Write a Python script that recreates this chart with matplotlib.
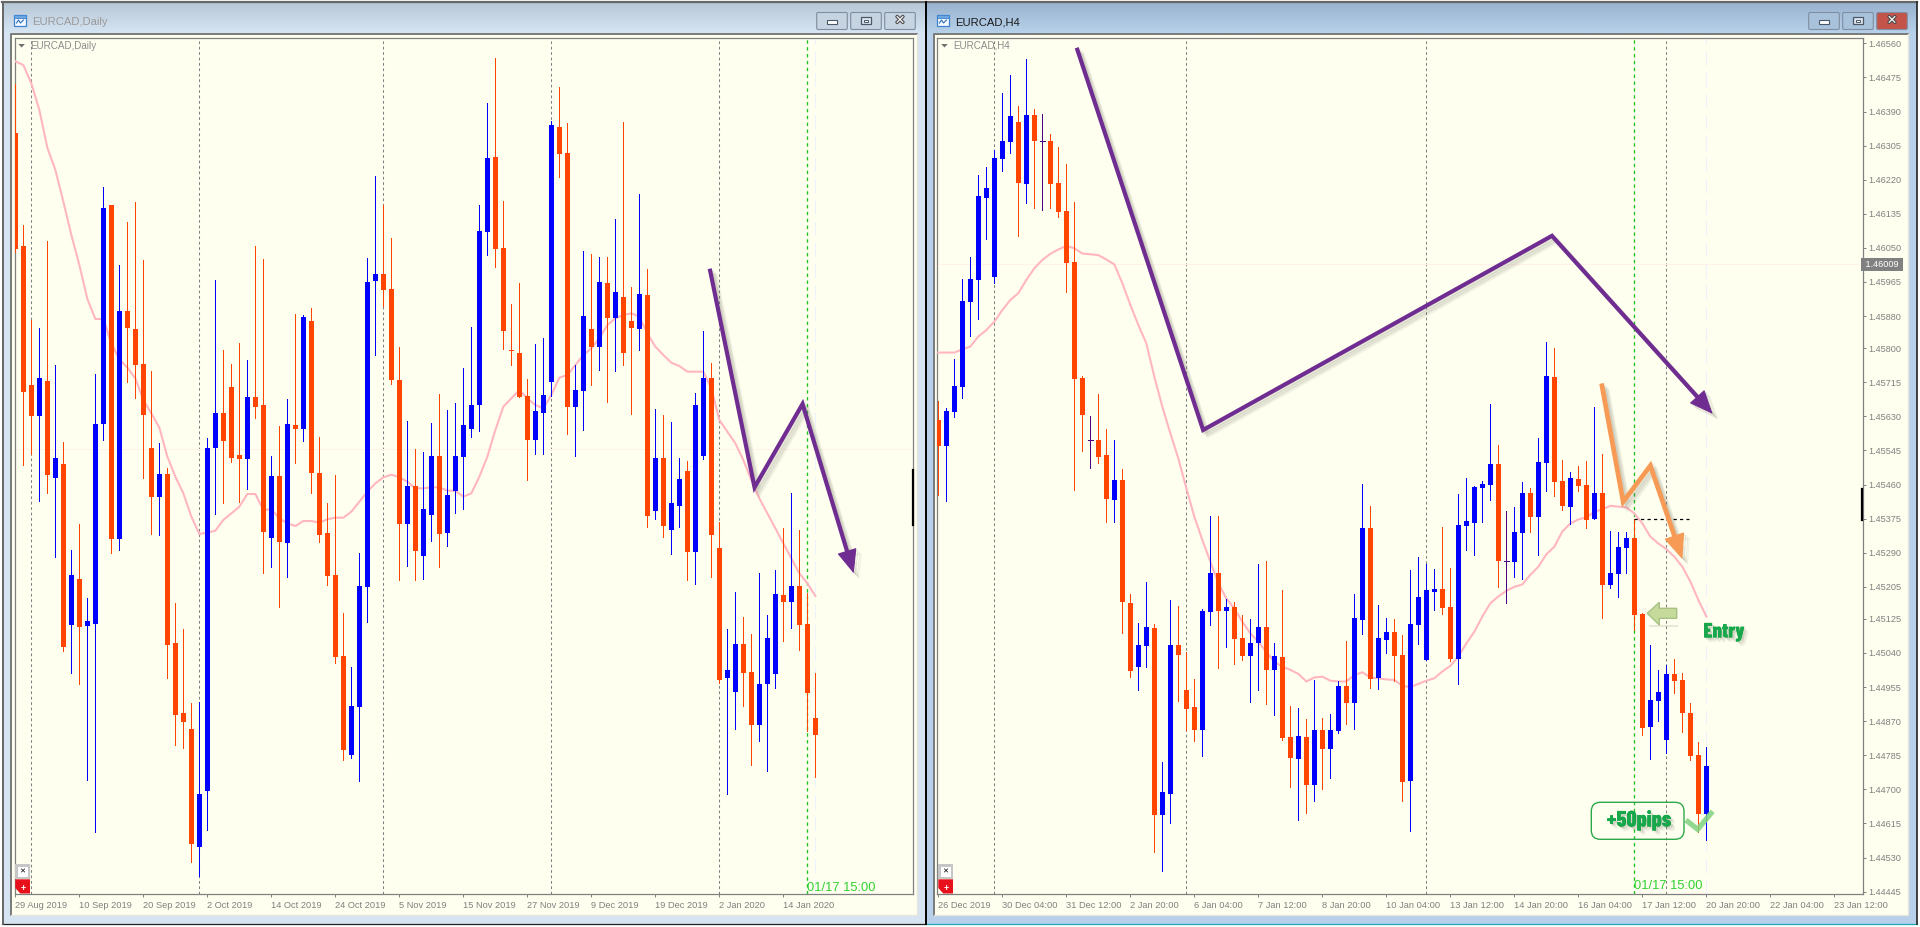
import numpy as np
import matplotlib
matplotlib.use("Agg")
import matplotlib.pyplot as plt
import matplotlib.patheffects as pe
from matplotlib.patches import FancyBboxPatch, Polygon, Rectangle

plt.rcParams["font.family"] = ["Liberation Sans", "DejaVu Sans"]

# daily pane has no price scale on screen, so values are plain chart levels
DAILY_TICKS = ["29 Aug 2019", "10 Sep 2019", "20 Sep 2019", "2 Oct 2019", "14 Oct 2019", "24 Oct 2019",
               "5 Nov 2019", "15 Nov 2019", "27 Nov 2019", "9 Dec 2019", "19 Dec 2019", "2 Jan 2020", "14 Jan 2020"]
DAILY_GRID = [2, 23, 46, 67, 88]
DAILY_OPEN = [2283, 1945, 1528, 1435, 1540, 1249, 1291, 808, 946, 805,
              812, 1411, 2068, 1066, 1750, 1696, 1591, 1339, 1192, 1261,
              754, 544, 496, 142, 310, 1339, 1444, 1522, 1318, 1306,
              1492, 1468, 1069, 1255, 1054, 1408, 1396, 1720, 1264, 1084,
              958, 715, 418, 562, 922, 1840, 1861, 1816, 1543, 1111,
              1225, 1015, 1138, 1315, 1084, 1210, 1312, 1396, 1468, 1987,
              2212, 1939, 1633, 1624, 1495, 1363, 1444, 1537, 2302, 2224,
              1462, 1510, 1696, 1642, 1834, 1729, 1792, 1720, 1696, 1798,
              1150, 1309, 1093, 1165, 1270, 1027, 1315, 1549, 1039, 649,
              607, 751, 667, 508, 631, 661, 898, 877, 925, 811, 529]
DAILY_CLOSE = [1937, 1508, 1435, 1549, 1258, 1309, 742, 958, 802, 820,
               1411, 2059, 1066, 1750, 1699, 1588, 1438, 1192, 1261, 748,
               538, 517, 151, 301, 1339, 1444, 1360, 1309, 1306, 1492,
               1462, 1087, 1255, 1057, 1411, 1396, 1732, 1264, 1078, 955,
               712, 433, 565, 925, 1837, 1861, 1813, 1543, 1111, 1225,
               1030, 1156, 1315, 1081, 1198, 1315, 1408, 1468, 1990, 2209,
               1936, 1690, 1630, 1492, 1363, 1450, 1498, 2308, 2221, 1462,
               1513, 1735, 1642, 1837, 1729, 1807, 1624, 1699, 1801, 1136,
               1309, 1105, 1174, 1246, 1027, 1468, 1549, 1078, 643, 673,
               751, 664, 508, 631, 769, 901, 877, 925, 808, 604, 478]
DAILY_HIGH = [2431, 2008, 1723, 1699, 1960, 1588, 1357, 1033, 1111, 889,
              1561, 2122, 2068, 1888, 2017, 2077, 1903, 1570, 1354, 1279,
              874, 796, 574, 577, 1369, 1843, 1633, 1591, 1654, 1603,
              1945, 1906, 1315, 1405, 1486, 1741, 1738, 1759, 1372, 1174,
              1258, 844, 682, 1024, 1909, 2155, 2068, 1969, 1642, 1420,
              1336, 1327, 1414, 1501, 1453, 1474, 1579, 1702, 2068, 2374,
              2509, 2080, 1771, 1834, 1546, 1651, 1669, 2320, 2422, 2314,
              1588, 1930, 1921, 1912, 1912, 2026, 2317, 1822, 2101, 1876,
              1456, 1438, 1417, 1309, 1300, 1504, 1690, 1594, 1117, 796,
              907, 832, 781, 964, 838, 973, 1099, 1204, 1093, 904, 664]
DAILY_LOW = [1928, 1288, 1321, 1180, 1204, 1012, 730, 664, 631, 343,
             187, 1363, 1024, 1033, 1537, 1489, 1249, 1081, 1078, 649,
             448, 439, 97, 55, 193, 1141, 1174, 1297, 1177, 1216,
             1429, 964, 982, 862, 952, 1294, 1360, 1204, 1057, 928,
             694, 403, 409, 340, 817, 1618, 1765, 1531, 943, 985,
             943, 946, 1060, 982, 1045, 1144, 1156, 1372, 1390, 1918,
             1882, 1636, 1588, 1492, 1243, 1321, 1321, 1495, 2152, 1381,
             1315, 1393, 1528, 1573, 1477, 1570, 1588, 1441, 1633, 1102,
             1126, 1072, 1021, 1102, 943, 931, 1306, 952, 634, 301,
             496, 565, 388, 460, 370, 619, 760, 799, 733, 490, 352]
DAILY_MA = [2499, 2488, 2433, 2353, 2240, 2173, 2078, 1978, 1888, 1786,
            1726, 1726, 1653, 1605, 1580, 1548, 1483, 1443, 1400, 1313,
            1253, 1203, 1133, 1081, 1085, 1091, 1123, 1143, 1163, 1201,
            1201, 1153, 1155, 1128, 1113, 1105, 1120, 1120, 1115, 1125,
            1130, 1130, 1148, 1178, 1208, 1233, 1251, 1259, 1251, 1238,
            1218, 1218, 1221, 1221, 1211, 1211, 1193, 1203, 1253, 1313,
            1393, 1463, 1488, 1513, 1488, 1468, 1458, 1498, 1550, 1558,
            1588, 1618, 1638, 1668, 1708, 1728, 1738, 1743, 1733, 1683,
            1643, 1618, 1595, 1585, 1568, 1568, 1568, 1518, 1423, 1388,
            1353, 1303, 1243, 1188, 1143, 1098, 1053, 1008, 963, 933, 895]
DAILY_BID = 1336
DAILY_TREND_X = [86.8, 92.4, 98.4, 104.8]
DAILY_TREND_Y = [1877, 1221, 1471, 963]

# H4 prices in points (1e-5)
H4_TICKS = ["26 Dec 2019", "30 Dec 04:00", "31 Dec 12:00", "2 Jan 20:00", "6 Jan 04:00", "7 Jan 12:00",
            "8 Jan 20:00", "10 Jan 04:00", "13 Jan 12:00", "14 Jan 20:00", "16 Jan 04:00", "17 Jan 12:00",
            "20 Jan 20:00", "22 Jan 04:00", "23 Jan 12:00"]
H4_GRID = [7, 31, 61, 91]
H4_PRICES = [1.46560, 1.46475, 1.46390, 1.46305, 1.46220, 1.46135, 1.46050, 1.45965, 1.45880, 1.45800,
             1.45715, 1.45630, 1.45545, 1.45460, 1.45375, 1.45290, 1.45205, 1.45125, 1.45040, 1.44955,
             1.44870, 1.44785, 1.44700, 1.44615, 1.44530, 1.44445]
H4_OPEN = [145621, 145556, 145641, 145703, 145915, 145970, 146174, 145977, 146272, 146314,
           146364, 146209, 146381, 146316, 146316, 146212, 146142, 146015, 145726, 145570,
           145571, 145534, 145421, 145471, 145165, 145005, 145058, 145102, 144636, 144689,
           145060, 144948, 144905, 144848, 145142, 145240, 145145, 145155, 145077, 145033,
           145065, 145105, 144998, 145030, 144831, 144776, 144831, 144711, 144848, 144801,
           144846, 144958, 144915, 145122, 145352, 144978, 145072, 145092, 145035, 144721,
           145110, 145023, 145192, 145200, 145155, 145025, 145357, 145364, 145451, 145459,
           145511, 145269, 145267, 145339, 145439, 145379, 145514, 145728, 145469, 145404,
           145474, 145459, 145374, 145439, 145210, 145237, 145302, 145327, 145137, 144856,
           144920, 144823, 144988, 144973, 144890, 144786, 144639]
H4_CLOSE = [145556, 145643, 145706, 145918, 145972, 146179, 146199, 146274, 146316, 146379,
            146212, 146381, 146316, 146316, 146209, 146139, 146012, 145723, 145633, 145570,
            145529, 145424, 145471, 145167, 144995, 145060, 145105, 144636, 144694, 145060,
            145035, 144900, 144848, 145145, 145240, 145145, 145155, 145075, 145033, 145065,
            145105, 144998, 145033, 144828, 144778, 144833, 144711, 144848, 144801, 144848,
            144958, 144915, 145127, 145352, 144975, 145077, 145092, 145033, 144718, 145112,
            145180, 145197, 145200, 145152, 145025, 145359, 145369, 145454, 145461, 145511,
            145269, 145269, 145342, 145439, 145379, 145516, 145731, 145466, 145407, 145476,
            145456, 145372, 145439, 145210, 145240, 145304, 145327, 145135, 144853, 144923,
            144943, 144988, 144970, 144890, 144783, 144639, 144758]
H4_HIGH = [145668, 145651, 145773, 145972, 146027, 146232, 146252, 146294, 146436, 146481,
           146404, 146521, 146396, 146384, 146334, 146302, 146259, 146164, 145731, 145631,
           145686, 145598, 145571, 145499, 145187, 145115, 145217, 145112, 144768, 145172,
           145157, 145043, 144975, 145150, 145382, 145382, 145175, 145167, 145135, 145125,
           145262, 145269, 145065, 145197, 144908, 144903, 144876, 144973, 144878, 144888,
           144970, 145070, 145187, 145461, 145407, 145160, 145127, 145125, 145085, 145247,
           145279, 145262, 145249, 145354, 145252, 145436, 145476, 145456, 145469, 145661,
           145559, 145394, 145404, 145466, 145451, 145576, 145815, 145800, 145521, 145491,
           145506, 145519, 145653, 145536, 145344, 145342, 145342, 145374, 145140, 145060,
           144998, 145010, 145025, 144990, 144915, 144818, 144806]
H4_LOW = [145434, 145419, 145628, 145676, 145830, 145873, 146072, 145962, 146242, 146287,
          146080, 146162, 146149, 146144, 146149, 146127, 145940, 145446, 145544, 145501,
          145514, 145367, 145367, 145090, 144980, 144948, 145005, 144544, 144497, 144616,
          144920, 144848, 144821, 144783, 145110, 145003, 145055, 145013, 145023, 144918,
          144948, 144913, 144886, 144823, 144706, 144624, 144641, 144671, 144701, 144728,
          144841, 144863, 144851, 145087, 144953, 144950, 145040, 144970, 144671, 144596,
          145063, 145023, 145147, 145137, 145020, 144963, 145297, 145284, 145367, 145421,
          145205, 145165, 145230, 145225, 145342, 145284, 145444, 145431, 145397, 145362,
          145444, 145352, 145374, 145127, 145202, 145180, 145240, 145097, 144836, 144776,
          144871, 144791, 144940, 144843, 144773, 144594, 144574]
H4_MA = [145789, 145789, 145789, 145797, 145804, 145829, 145845, 145866, 145895, 145920,
         145937, 145970, 145999, 146020, 146035, 146046, 146055, 146049, 146036, 146034,
         146032, 146021, 146009, 145962, 145908, 145858, 145812, 145729, 145654, 145588,
         145525, 145451, 145380, 145322, 145268, 145214, 145176, 145151, 145118, 145089,
         145068, 145043, 145018, 145006, 144998, 144988, 144969, 144979, 144981, 144971,
         144969, 144969, 144985, 144992, 144979, 144977, 144974, 144973, 144958, 144955,
         144963, 144971, 144977, 144994, 145008, 145031, 145064, 145093, 145131, 145164,
         145181, 145195, 145205, 145211, 145235, 145255, 145286, 145305, 145343, 145363,
         145373, 145378, 145392, 145398, 145407, 145405, 145403, 145388, 145363, 145330,
         145313, 145299, 145280, 145255, 145218, 145172, 145131]
H4_BID = 1.46009
H4_TREND_X = [17.3, 33.1, 76.7, 96.8]
H4_TREND_Y = [1.46549, 1.45596, 1.46080, 1.45636]
H4_SWING_X = [82.9, 85.6, 89.0, 93.0]
H4_SWING_Y = [1.45712, 1.45417, 1.45507, 1.45274]
H4_ENTRY_X = [87, 93.8]
H4_ENTRY_Y = 1.45373

BLUE = "#0000ff"
ORANGE = "#ff4500"
DOJI = "#4b0082"
MA_PINK = "#ffb6c1"
IVORY = "#fffff0"
GREY = "#808080"
PURPLE = "#6f2c91"
SWING = "#f79a55"
LIME = "#2fd12f"
TEXT_GREEN = "#16a84a"
HEAVY_NARROW = ["Barlow Condensed", "Liberation Sans"]
W, H = 1920, 927


def px_axes(fig, left, top, right, bottom):
    return fig.add_axes([left / W, 1 - bottom / H, (right - left) / W, (bottom - top) / H])


def draw_candles(ax, opens, highs, lows, closes):
    opens, highs, lows, closes = map(np.asarray, (opens, highs, lows, closes))
    x = np.arange(len(opens))
    colors = np.where(closes > opens, BLUE, np.where(closes < opens, ORANGE, DOJI))
    ax.vlines(x, lows, highs, colors=colors, linewidth=0.72, zorder=4, antialiased=False)
    ax.bar(x, closes - opens, bottom=opens, width=0.63, color=colors, linewidth=0, zorder=5, antialiased=False)
    flat = closes == opens
    ax.hlines(opens[flat], x[flat] - 0.31, x[flat] + 0.31, colors=DOJI, linewidth=0.72, zorder=5, antialiased=False)


def trend_line(ax, xs, ys, color, lw, head):
    shadow = [pe.SimpleLineShadow(offset=(4, -4), shadow_color="#666655", alpha=0.08),
              pe.SimpleLineShadow(offset=(3, -3), shadow_color="#666655", alpha=0.12),
              pe.SimpleLineShadow(offset=(1.5, -1.5), shadow_color="#666655", alpha=0.14), pe.Normal()]
    # shaft stops inside the arrow head so the tip stays sharp
    start, tip = ax.transData.transform([(xs[-2], ys[-2]), (xs[-1], ys[-1])])
    stop = ax.transData.inverted().transform(tip + (start - tip) * 14 / np.hypot(*(tip - start)))
    ax.plot(list(xs[:-1]) + [stop[0]], list(ys[:-1]) + [stop[1]], color=color, lw=lw, zorder=8,
            solid_joinstyle="miter", solid_capstyle="butt", path_effects=shadow)
    arrow = ax.annotate("", xy=(xs[-1], ys[-1]), xytext=tuple(stop), zorder=9,
                        arrowprops=dict(arrowstyle=f"-|>,head_length={head},head_width={head * 0.42}",
                                        color=color, lw=0.8, shrinkA=0, shrinkB=0, mutation_scale=10))
    arrow.arrow_patch.set_path_effects(shadow)


def style_pane(ax, n_ticks, labels):
    ax.set_facecolor(IVORY)
    for spine in ax.spines.values():
        spine.set_color(GREY)
        spine.set_linewidth(0.9)
    ax.set_xticks(np.arange(n_ticks) * 8)
    ax.set_xticklabels(labels, ha="left", fontsize=6.7, color=GREY)
    ax.tick_params(axis="x", length=2.4, width=0.7, color=GREY, pad=2.2)


def draw_pane(ax, opens, highs, lows, closes, ma, grid, green_bar, last_bar, bid):
    for bar in grid:
        ax.axvline(bar, color=GREY, lw=0.75, ls=(0, (2.6, 2.6)), zorder=1)
    ax.axvline(green_bar, color="#1fc01f", lw=0.95, ls=(0, (2.6, 2.6)), zorder=1)
    ax.axvline(last_bar, color="#eef2fb", lw=0.85, ls=(0, (12, 6)), zorder=1)
    ax.axhline(bid, color="#fff3e8", lw=0.8, zorder=1)
    ax.plot(np.arange(len(ma)), ma, color=MA_PINK, lw=1.5, zorder=3)
    draw_candles(ax, opens, highs, lows, closes)


fig = plt.figure(figsize=(W / 100, H / 100), dpi=100, facecolor="white")

# window chrome, in screen pixels
bg = fig.add_axes([0, 0, 1, 1], zorder=0)
bg.set_xlim(0, W)
bg.set_ylim(H, 0)
bg.axis("off")


def window(left, right, top_color, bottom_color, frame, active):
    bg.add_patch(Rectangle((left, 2), right - left, 922, fc=frame, ec="none"))
    grad = np.linspace(0, 1, 30)[:, None, None]
    c0 = np.array(matplotlib.colors.to_rgb(top_color))
    c1 = np.array(matplotlib.colors.to_rgb(bottom_color))
    bg.imshow(c0 + (c1 - c0) * grad, extent=(left, right, 33, 3), aspect="auto", zorder=1)
    bg.set_xlim(0, W)
    bg.set_ylim(H, 0)
    bg.plot([left, right], [2, 2], color="#666666", lw=1.6, zorder=2)
    bg.plot([left, right], [923.5, 923.5], color="#222222" if not active else "#20a8b8", lw=0.9, zorder=2)


def chrome_button(x0, x1, close=False, kind="min", active=False):
    fc = "#c4544a" if close else ("#a9c2dc" if active else "#c6d3e1")
    bg.add_patch(FancyBboxPatch((x0, 12.5), x1 - x0, 17, boxstyle="round,pad=0,rounding_size=1.5",
                                fc=fc, ec="#7f8ea0", lw=0.8, zorder=3))
    cx = (x0 + x1) / 2
    if kind == "min":
        bg.add_patch(Rectangle((cx - 5, 20), 10, 4, fc="white", ec="#4a5868", lw=0.8, zorder=4))
    elif kind == "max":
        bg.add_patch(Rectangle((cx - 5, 16.5), 10, 7.5, fc="#dde6ef", ec="#4a5868", lw=0.9, zorder=4))
        bg.add_patch(Rectangle((cx - 2, 19.5), 4, 2, fc="white", ec="#4a5868", lw=0.7, zorder=5))
    else:
        bg.text(cx, 20.5, "✕", ha="center", va="center", fontsize=9, color="white", fontweight="bold",
                family="DejaVu Sans", zorder=4,
                path_effects=[pe.withStroke(linewidth=1.6, foreground="#4a4a4a")])


def window_icon(x, y):
    bg.add_patch(Rectangle((x, y + 1), 12, 11, fc="#f4f8ff", ec="#3f83cf", lw=0.9, zorder=3))
    bg.add_patch(Rectangle((x, y + 1), 12, 3, fc="#6aa6e0", ec="#3f83cf", lw=0.6, zorder=3))
    bg.plot([x + 3, x + 5, x + 7, x + 10], [y + 9, y + 6, y + 9, y + 6], color="#2f6fb8", lw=0.8, zorder=4)


def chart_well(left, right):
    bg.add_patch(Rectangle((left, 33.5), right - left, 881.5, fc=IVORY, ec="none", zorder=2))
    bg.plot([left, left, right], [915, 33.5, 33.5], color="#7a7a7a", lw=1.4, zorder=3)
    bg.plot([left, right, right], [915, 915, 33.5], color="#e6e6dc", lw=1.0, zorder=3)


window(2, 926, "#b8c7d7", "#d6e4f3", "#d6e4f2", False)
window(927, 1917, "#99b3d0", "#b8d0ea", "#b8d0ea", True)
bg.plot([2.5, 2.5], [2, 924], color="#666666", lw=1.4, zorder=2)
bg.plot([926, 926], [2, 924], color="black", lw=1.4, zorder=6)
bg.plot([1917, 1917], [2, 924], color="#222222", lw=1.2, zorder=6)
chart_well(11, 917)
chart_well(934, 1908)

bg.text(32.3, 22, "EURCAD,Daily", fontsize=8.1, color="#9a9a9a", va="center", zorder=4)
bg.text(955, 22, "EURCAD,H4", fontsize=8.1, color="#1a1a1a", va="center", zorder=4)
window_icon(13.5, 14)
window_icon(936.5, 14)
for x0, kind in [(816.7, "min"), (850.7, "max"), (884.7, "x")]:
    chrome_button(x0, x0 + 30.6, kind=kind)
for x0, kind in [(1808.7, "min"), (1842.7, "max")]:
    chrome_button(x0, x0 + 30.6, kind=kind, active=True)
chrome_button(1876.7, 1907.3, close=True, kind="x", active=True)

# daily pane
left_ax = px_axes(fig, 14.7, 37.7, 912.7, 894.3)
left_ax.set_zorder(2)
draw_pane(left_ax, DAILY_OPEN, DAILY_HIGH, DAILY_LOW, DAILY_CLOSE, DAILY_MA, DAILY_GRID, 99, 100, DAILY_BID)
left_ax.set_xlim(-0.083, 112.17)
left_ax.set_ylim(0, 2570)
left_ax.set_yticks([])
style_pane(left_ax, len(DAILY_TICKS), DAILY_TICKS)
trend_line(left_ax, DAILY_TREND_X, DAILY_TREND_Y, PURPLE, 3.0, 1.55)

# H4 pane
right_ax = px_axes(fig, 937.3, 37.7, 1862.7, 894.3)
right_ax.set_zorder(2)
draw_pane(right_ax, np.array(H4_OPEN) / 1e5, np.array(H4_HIGH) / 1e5, np.array(H4_LOW) / 1e5,
          np.array(H4_CLOSE) / 1e5, np.array(H4_MA) / 1e5, H4_GRID, 87, 96, H4_BID)
right_ax.set_xlim(-0.125, 115.54)
right_ax.set_ylim(1.444384, 1.46574)
style_pane(right_ax, len(H4_TICKS), H4_TICKS)
right_ax.yaxis.tick_right()
right_ax.set_yticks(H4_PRICES)
right_ax.set_yticklabels([f"{p:.5f}" for p in H4_PRICES], fontsize=6.6, color=GREY)
right_ax.tick_params(axis="y", length=2.4, width=0.7, color=GREY, pad=1.9)
right_ax.text(1.0, H4_BID, f" {H4_BID:.5f} ", transform=right_ax.get_yaxis_transform(), fontsize=6.6, color="white",
              va="center", ha="left", clip_on=False, zorder=9,
              bbox=dict(boxstyle="square,pad=0.22", fc=GREY, ec="none"))
trend_line(right_ax, H4_TREND_X, H4_TREND_Y, PURPLE, 3.0, 1.55)
trend_line(right_ax, H4_SWING_X, H4_SWING_Y, SWING, 3.4, 1.65)
right_ax.plot(H4_ENTRY_X, [H4_ENTRY_Y, H4_ENTRY_Y], color="black", lw=0.9, ls=(0, (2.6, 2.6)), zorder=7)

# overlay drawn in screen pixels: labels and icons that sit on top of the panes
top = fig.add_axes([0, 0, 1, 1], zorder=5)
top.set_xlim(0, W)
top.set_ylim(H, 0)
top.axis("off")
top.patch.set_alpha(0)

for x, label in [(30.7, "EURCAD,Daily"), (953.3, "EURCAD,H4")]:
    top.text(x, 45.5, label, fontsize=7.1, color="#8c8c8c", va="center")
for x in (18.3, 941.2):
    top.add_patch(Polygon([(x, 44), (x + 6.6, 44), (x + 3.3, 47.5)], fc="#707070", ec="none"))
for x in (15.3, 938.3):
    top.add_patch(Rectangle((x, 864.3), 14.7, 14.7, fc="#c6c6c6", ec="none"))
    top.add_patch(Rectangle((x + 2.4, 867), 10, 9.5, fc="white", ec="none"))
    top.text(x + 7.3, 871.7, "✕", fontsize=5.2, ha="center", va="center", color="black", family="DejaVu Sans")
    top.add_patch(Polygon([(x, 879.3), (x + 14.7, 879.3), (x + 14.7, 893.5), (x + 5, 893.5), (x, 888)],
                          fc="#e8101a", ec="none"))
    top.text(x + 8, 888.7, "+", fontsize=6.5, ha="center", va="center", color="white", fontweight="bold")
for x, y0, y1 in [(912.6, 470, 525), (1862.4, 489, 520)]:
    top.plot([x, x], [y0, y1], color="black", lw=1.6)
for x, y in [(807, 888), (1634, 886)]:
    top.text(x, y, "01/17 15:00", fontsize=9.3, color=LIME, ha="left", va="center")

# entry marker, result box and tick
top.plot([1650, 1677], [626, 626], color="#888877", lw=1.5, alpha=0.18)
top.add_patch(Polygon([(1647.3, 613.3), (1659.3, 602.3), (1659.3, 608.3), (1676.7, 608.3), (1676.7, 618.3),
                       (1659.3, 618.3), (1659.3, 625)], fc="#c6da9c", ec="#a8c286", lw=1.0))
word_shadow = [pe.withSimplePatchShadow(offset=(3, -3), shadow_rgbFace="#666655", alpha=0.12),
               pe.withSimplePatchShadow(offset=(1.5, -1.5), shadow_rgbFace="#666655", alpha=0.2)]
top.text(1724, 632, "Entry", fontsize=15, fontweight=800, family=HEAVY_NARROW,
         color=TEXT_GREEN, ha="center", va="center", path_effects=word_shadow)
top.add_patch(FancyBboxPatch((1591.3, 802.3), 92.7, 37, boxstyle="round,pad=0,rounding_size=9",
                             fc="none", ec="#2ea84a", lw=1.0))
top.text(1639, 820, "+50pips", fontsize=16, fontweight=800, family=HEAVY_NARROW,
         color=TEXT_GREEN, ha="center", va="center", path_effects=word_shadow)
top.plot([1688, 1697.7, 1711], [821.7, 829.3, 813.3], color="#7fd27f", lw=3.8, alpha=0.85, solid_joinstyle="miter")

fig.savefig("out.png", dpi=100, facecolor="white")
